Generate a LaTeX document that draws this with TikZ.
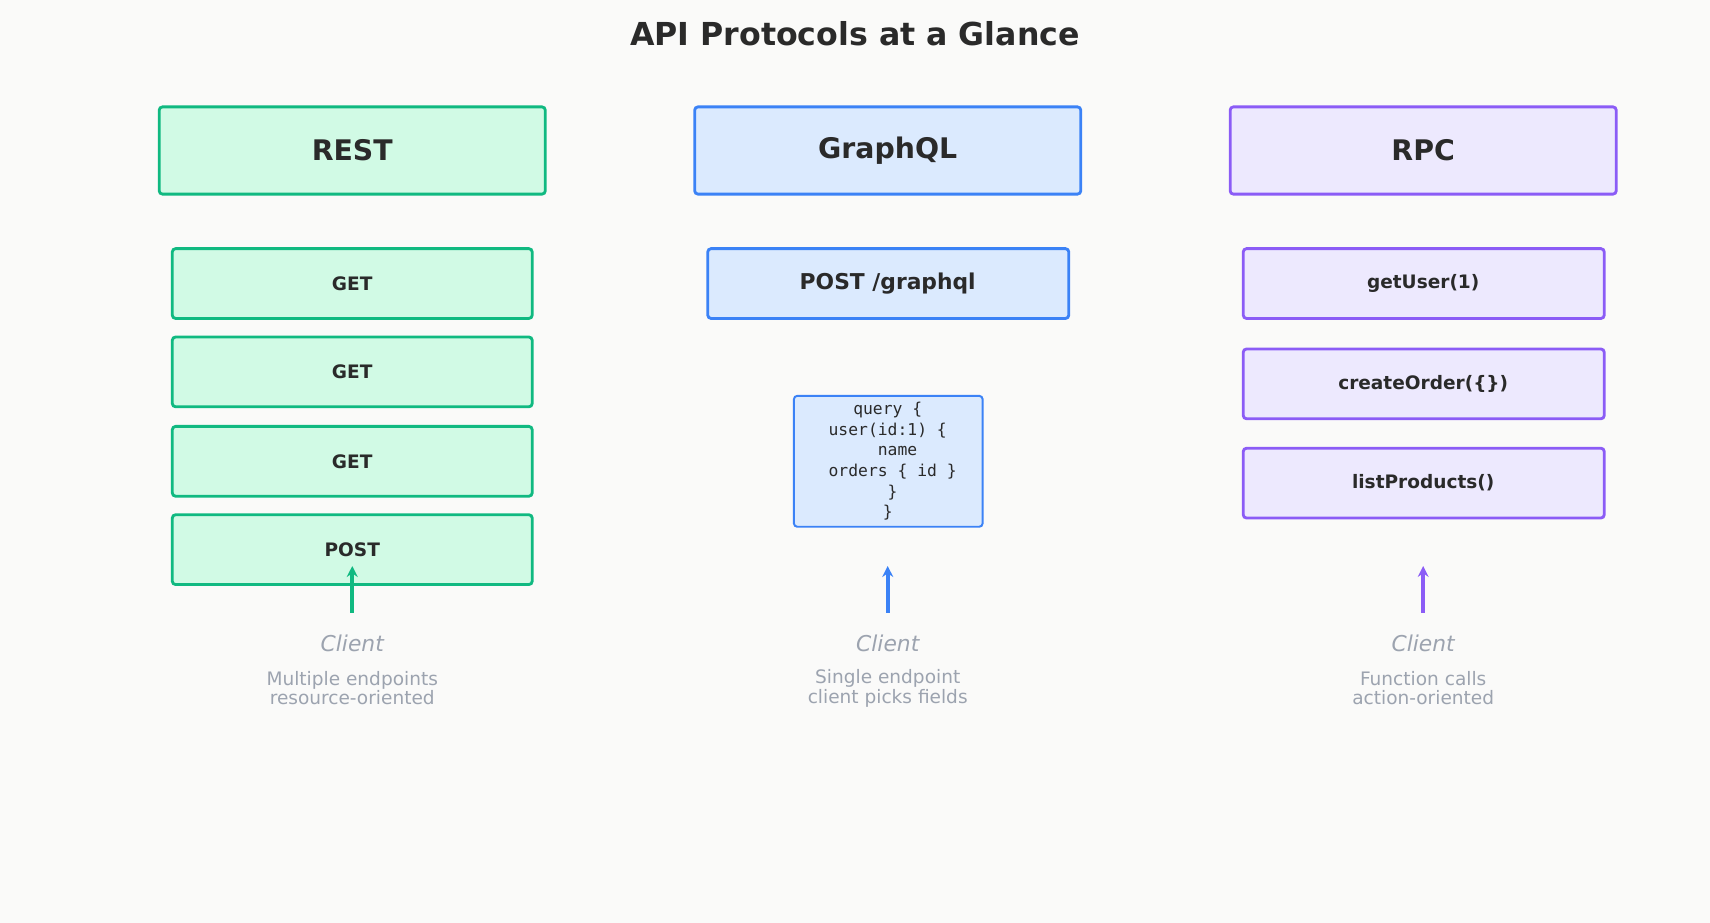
\documentclass[tikz,border=0pt]{standalone}
\usepackage{fontspec}
\setmainfont{DejaVu Sans}
\setmonofont{DejaVu Sans Mono}
\usetikzlibrary{arrows.meta}
\definecolor{bg}{HTML}{FAFAF9}
\definecolor{tx}{HTML}{2A2A2A}
\definecolor{gr}{HTML}{9CA3AF}
\definecolor{cA}{HTML}{10B981}\definecolor{fA}{HTML}{D1FAE5}
\definecolor{cB}{HTML}{3B82F6}\definecolor{fB}{HTML}{DBEAFE}
\definecolor{cC}{HTML}{8B5CF6}\definecolor{fC}{HTML}{EDE9FE}
\begin{document}
\begin{tikzpicture}[x=1pt,y=-1pt,
 box/.style={draw=c#1,line width=2.6pt,rounded corners=3pt,fill=f#1},
 hdr/.style={font=\fontsize{26}{30}\selectfont\bfseries,text=tx},
 itm/.style={font=\fontsize{17}{20}\selectfont\bfseries,text=tx},
 cli/.style={font=\fontsize{20}{24}\selectfont\itshape,text=gr},
 dsc/.style={font=\fontsize{17}{20}\selectfont,text=gr,align=center},
 arr/.style={draw=#1,line width=3.5pt,-{Stealth[length=10pt,width=10pt]}}]
\fill[bg] (0,0) rectangle (1568,846);
\useasboundingbox (0,0) rectangle (1568,846);
\node[font=\fontsize{29}{34}\selectfont\bfseries,text=tx] (title) at (784,31) {API Protocols at a Glance};
% columns
\foreach \c/\cx/\h in {A/323/REST,B/814/GraphQL,C/1305/RPC / gRPC}{
 \draw[box=\c] (\cx-177,98) rectangle (\cx+177,178);
 \node[hdr] (h\c) at (\cx,138) {\h};
}
\foreach \y/\t/\n in {260/GET /users/a1,341/GET /orders/a2,423/GET /products/a3,504/POST /users/a4}{
 \draw[box=A] (158,\y-32) rectangle (488,\y+32);
 \node[itm] (\n) at (323,\y) {\t};
}
\draw[box=B] (649,228) rectangle (980,292);
\node[itm,font=\fontsize{20}{24}\selectfont\bfseries] (b1) at (814,260) {POST /graphql};
\draw[draw=cB,line width=1.8pt,rounded corners=3pt,fill=fB] (728,363) rectangle (901,483);
\node[font=\fontsize{15}{19}\selectfont\ttfamily,text=tx,align=center] (code) at (814,423) {query \{\\ user(id:1) \{\\ \ \ name\\ \ orders \{ id \}\\ \ \}\\ \}};
\foreach \y/\t/\n in {260/getUser(1)/c1,352/createOrder(\{\})/c2,443/listProducts()/c3}{
 \draw[box=C] (1140,\y-32) rectangle (1471,\y+32);
 \node[itm] (\n) at (1305,\y) {\t};
}
\foreach \c/\cx/\l/\m/\k in {A/323/Multiple endpoints/resource-oriented/a,B/814/Single endpoint/client picks fields/b,C/1305/Function calls/action-oriented/c}{
 \coordinate (s\k) at (\cx,562);
 \coordinate (e\k) at (\cx,519);
 \draw[arr=c\c] (s\k) -- (e\k);
 \node[cli] (cl\k) at (\cx,590) {Client};
 \node[dsc] (d\k) at (\cx,631) {\l\\[-2pt]\m};
}
\end{tikzpicture}
\end{document}
